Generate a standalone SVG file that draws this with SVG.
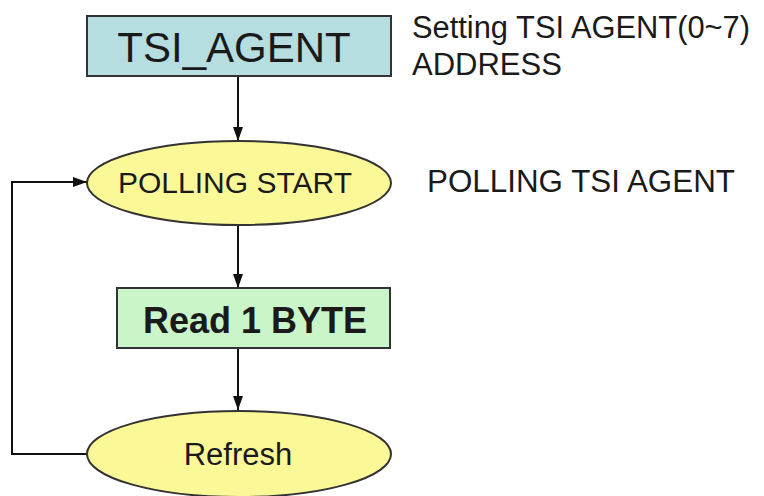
<svg xmlns="http://www.w3.org/2000/svg" width="764" height="496" viewBox="0 0 764 496">
<style>
.box{stroke:#333;stroke-width:2}
.ell{fill:#fbf898;stroke:#333;stroke-width:2}
.t{font-family:"Liberation Sans",Arial,sans-serif;fill:#1a1a1a}
.c{stroke:#111;stroke-width:2;fill:none}
</style>
<defs>
<marker id="ah" viewBox="0 0 14 10" refX="14" refY="5" markerWidth="14" markerHeight="10" markerUnits="userSpaceOnUse" orient="auto">
<path d="M0,0 L14,5 L0,10 z" fill="#111"/>
</marker>
</defs>
<rect width="764" height="496" fill="#fff"/>
<g id="connectors">
<line class="c" x1="238" y1="76" x2="238" y2="141" marker-end="url(#ah)"/>
<line class="c" x1="238" y1="225" x2="238" y2="288" marker-end="url(#ah)"/>
<line class="c" x1="238" y1="348" x2="238" y2="410" marker-end="url(#ah)"/>
<polyline class="c" points="87,454 12,454 12,182 87,182" marker-end="url(#ah)"/>
</g>
<g id="tsi_agent">
<rect class="box" x="87" y="16" width="304" height="60" fill="#b6dde0"/>
<text class="t" x="234" y="62" font-size="42" text-anchor="middle">TSI_AGENT</text>
</g>
<g id="polling_start">
<ellipse class="ell" cx="239" cy="183" rx="152" ry="42"/>
<text class="t" x="235" y="193" font-size="30" text-anchor="middle">POLLING START</text>
</g>
<g id="read_byte">
<rect class="box" x="117" y="288" width="273" height="60" fill="#c9f5c9"/>
<text class="t" x="255" y="333" font-size="36" font-weight="bold" text-anchor="middle">Read 1 BYTE</text>
</g>
<g id="refresh">
<ellipse class="ell" cx="239" cy="454" rx="152" ry="43"/>
<text class="t" x="238" y="465" font-size="31" text-anchor="middle">Refresh</text>
</g>
<g id="notes">
<text class="t" x="412" y="38" font-size="31" textLength="338" lengthAdjust="spacingAndGlyphs">Setting TSI AGENT(0~7)</text>
<text class="t" x="412" y="75" font-size="31">ADDRESS</text>
<text class="t" x="427" y="192" font-size="31" textLength="308" lengthAdjust="spacingAndGlyphs">POLLING TSI AGENT</text>
</g>
</svg>
